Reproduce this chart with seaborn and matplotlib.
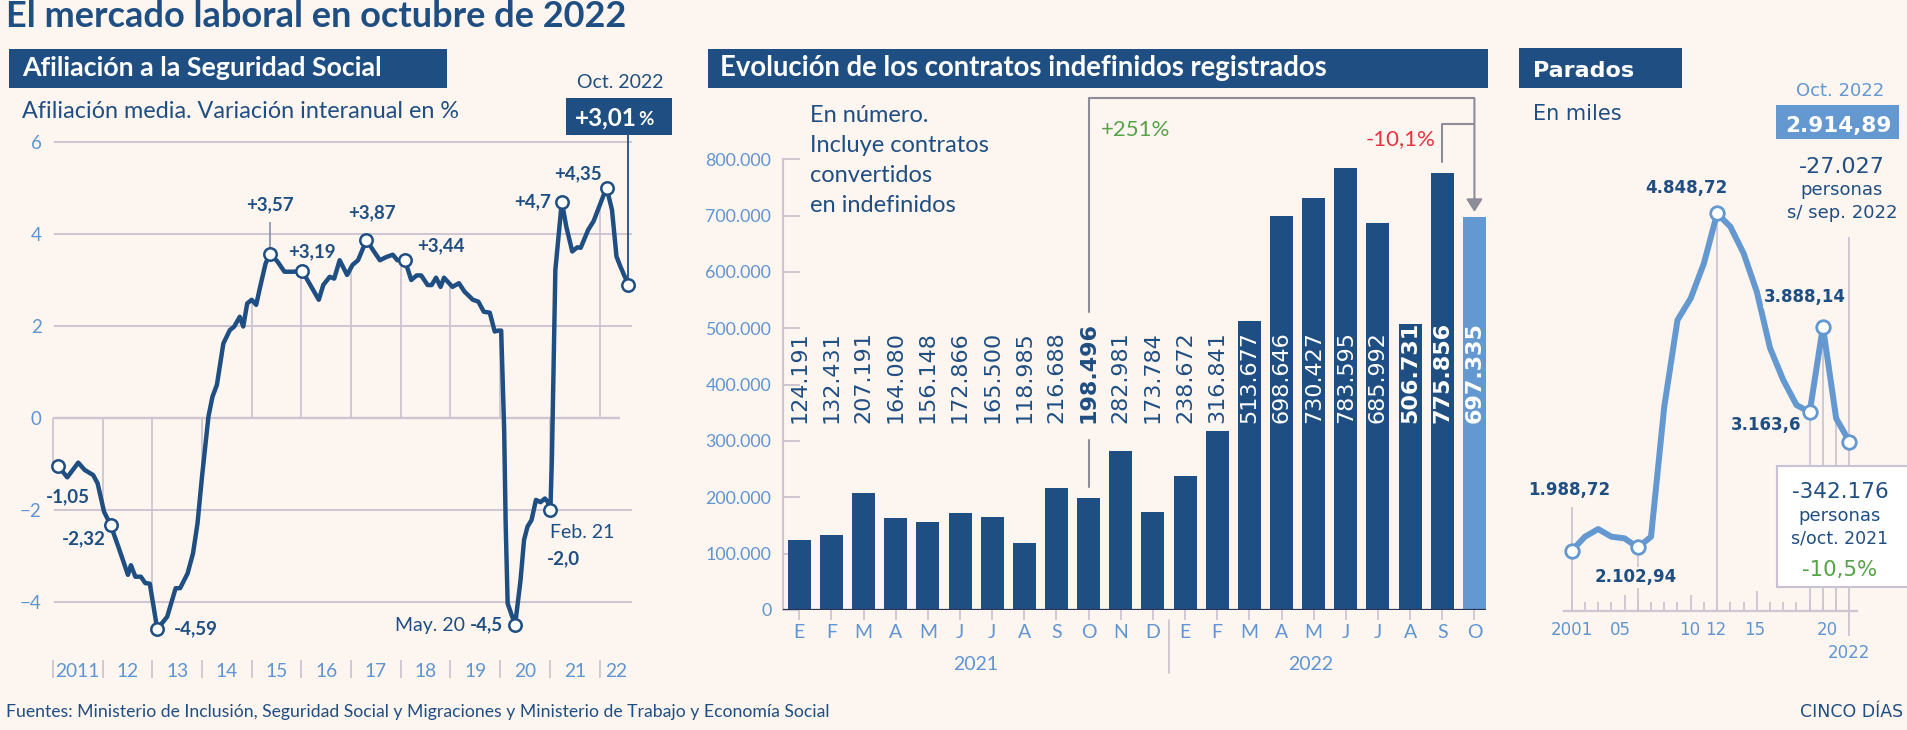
import numpy as np
import pandas as pd
import matplotlib
matplotlib.use("Agg")
import matplotlib.pyplot as plt
import matplotlib.transforms as mtransforms
from matplotlib.patches import Rectangle
import seaborn as sns

# ---------------- DATA ----------------
anios_afiliacion = [2011.11, 2011.29, 2011.51, 2011.64, 2011.81, 2011.90,
                    2012.03, 2012.16, 2012.34, 2012.51, 2012.57, 2012.66, 2012.77, 2012.86, 2012.95,
                    2013.10, 2013.30, 2013.47, 2013.56, 2013.71, 2013.82, 2013.91,
                    2014.00, 2014.13, 2014.21, 2014.30, 2014.43, 2014.56, 2014.65, 2014.76, 2014.83, 2014.91,
                    2015.00, 2015.09, 2015.17, 2015.28, 2015.37, 2015.52, 2015.66, 2015.83,
                    2016.02, 2016.18, 2016.35, 2016.44, 2016.57, 2016.66, 2016.77, 2016.92,
                    2017.03, 2017.14, 2017.31, 2017.46, 2017.58, 2017.71, 2017.84, 2017.93,
                    2018.08, 2018.21, 2018.32, 2018.41, 2018.54, 2018.62, 2018.71, 2018.80, 2018.87,
                    2019.04, 2019.17, 2019.28, 2019.45, 2019.56, 2019.67, 2019.79, 2019.89, 2019.96,
                    2020.02, 2020.08, 2020.11, 2020.15, 2020.30, 2020.41, 2020.48, 2020.55, 2020.63,
                    2020.72, 2020.81, 2020.90, 2020.96,
                    2021.01, 2021.04, 2021.11, 2021.24, 2021.33, 2021.45, 2021.55, 2021.62, 2021.77,
                    2021.88, 2021.99,
                    2022.14, 2022.25, 2022.34, 2022.42, 2022.58]
afiliacion = [-1.05, -1.29, -0.97, -1.13, -1.24, -1.42,
              -2.04, -2.32, -2.87, -3.41, -3.20, -3.45, -3.45, -3.59, -3.60,
              -4.59, -4.32, -3.70, -3.70, -3.38, -2.94, -2.29,
              -1.28, 0.03, 0.46, 0.72, 1.62, 1.91, 1.99, 2.20, 1.99, 2.49,
              2.57, 2.46, 2.85, 3.36, 3.57, 3.40, 3.18, 3.18,
              3.19, 2.89, 2.57, 2.89, 3.07, 3.03, 3.43, 3.11,
              3.33, 3.43, 3.87, 3.62, 3.43, 3.50, 3.55, 3.43,
              3.44, 3.00, 3.10, 3.10, 2.89, 2.89, 3.05, 2.85, 3.05,
              2.85, 2.93, 2.75, 2.57, 2.53, 2.31, 2.29, 1.88, 1.90,
              1.90, -0.26, -2.29, -4.03, -4.50, -3.52, -2.65, -2.36, -2.22,
              -1.78, -1.83, -1.75, -1.83,
              -2.00, -0.91, 3.22, 4.70, 4.16, 3.62, 3.71, 3.70, 4.09,
              4.28, 4.59,
              5.01, 4.52, 3.51, 3.29, 2.89]
hitos_afiliacion = [2011.11, 2012.16, 2013.10, 2015.37, 2016.02, 2017.31, 2018.08,
                    2020.30, 2021.01, 2021.24, 2022.14, 2022.58]
anios_eje_afiliacion = list(range(2011, 2023))
etiquetas_eje_afiliacion = ["2011", "12", "13", "14", "15", "16", "17", "18", "19", "20", "21", "22"]
ticks_afiliacion = [-4, -2, 0, 2, 4, 6]

meses = ["E", "F", "M", "A", "M", "J", "J", "A", "S", "O", "N", "D",
         "E", "F", "M", "A", "M", "J", "J", "A", "S", "O"]
anios_meses = [2021] * 12 + [2022] * 10
contratos = [124191, 132431, 207191, 164080, 156148, 172866, 165500, 118985, 216688, 198496,
             282981, 173784, 238672, 316841, 513677, 698646, 730427, 783595, 685992, 506731,
             775856, 697335]
destacados = [9, 19, 20, 21]

anios_parados = list(range(2001, 2023))
parados = [1988.72, 2108, 2173, 2108, 2094, 2017, 2108, 3210, 3944, 4128, 4425,
           4848.72, 4735, 4510, 4184, 3707, 3436, 3224, 3163.6, 3888.14, 3111, 2914.89]
hitos_parados = [2001, 2006, 2012, 2019, 2020, 2022]
etiquetas_parados = ["1.988,72", "2.102,94", "4.848,72", "3.163,6", "3.888,14", None]

# ---------------- STYLE ----------------
W, H = 1908, 730
BG = "#fdf5ef"
DARK = "#1f4e82"
LIGHT = "#6398d0"
TICK = "#5e95d2"
GRID = "#cdc6d2"
LINEGREY = "#8e8c99"
GREEN = "#56a247"
RED = "#e53340"
DV = "DejaVu Sans"

sns.set_theme(style="white")
plt.rcParams["font.family"] = ["Lato", "DejaVu Sans"]
plt.rcParams["axes.unicode_minus"] = True

fig = plt.figure(figsize=(W / 100, H / 100), dpi=100, facecolor=BG)


def fx(px):
    return px / W


def fy(py):
    return 1 - py / H


def ftext(x, y, s, **kw):
    kw.setdefault("va", "baseline")
    return fig.text(fx(x), fy(y), s, **kw)


def rect(x0, y0, x1, y1, **kw):
    fig.add_artist(Rectangle((fx(x0), fy(y1)), (x1 - x0) / W, (y1 - y0) / H,
                             transform=fig.transFigure, **kw))


def pyd(ax, py):
    return ax.transData.inverted().transform((0, H - py))[1]


# ---------------- TITLES ----------------
ftext(6, 27, "El mercado laboral en octubre de 2022", fontsize=26, weight="bold", color=DARK)

rect(8.7, 49, 447, 88, facecolor=DARK, lw=0)
ftext(22, 76, "Afiliación a la Seguridad Social", fontsize=19.3, weight="bold", color="white")
ftext(22, 118, "Afiliación media. Variación interanual en %", fontsize=16.8, color=DARK)
ftext(620, 88, "Oct. 2022", ha="center", fontsize=14, color=DARK)
rect(566, 98, 672, 135, facecolor=DARK, lw=0)
ftext(637, 125, "+3,01", ha="right", fontsize=17.5, weight="bold", color="white")
ftext(638, 125, "%", ha="left", fontsize=13.5, weight="bold", color="white")

rect(707.7, 49, 1488, 88, facecolor=DARK, lw=0)
ftext(720, 76, "Evolución de los contratos indefinidos registrados", fontsize=19.8,
      weight="bold", color="white")
for yb, line in zip([121.7, 151.5, 181.5, 211.7],
                    ["En número.", "Incluye contratos", "convertidos", "en indefinidos"]):
    ftext(810, yb, line, fontsize=17, color=DARK)

rect(1519.3, 48.3, 1681.7, 87.7, facecolor=DARK, lw=0)
ftext(1533, 76.7, "Parados", fontsize=16, weight="bold", color="white", family=DV)
ftext(1533, 120, "En miles", fontsize=15, color=DARK, family=DV)
ftext(1840, 96, "Oct. 2022", ha="center", fontsize=13, color=LIGHT, family=DV)
rect(1776, 105, 1899, 139.3, facecolor=LIGHT, lw=0)
ftext(1838, 131.7, "2.914,89", ha="center", fontsize=15.5, weight="bold", color="white", family=DV)
ftext(1842, 173.3, "-27.027", ha="center", fontsize=16, color=DARK, family=DV)
ftext(1842, 195, "personas", ha="center", fontsize=13, color=DARK, family=DV)
ftext(1842, 218.3, "s/ sep. 2022", ha="center", fontsize=13, color=DARK, family=DV)

ftext(6, 717, "Fuentes: Ministerio de Inclusión, Seguridad Social y Migraciones y Ministerio "
      "de Trabajo y Economía Social", fontsize=12.7, color=DARK)
ftext(1903, 716.7, "CINCO DÍAS", ha="right", fontsize=12.5, color=DARK, family=DV)

# ---------------- LEFT: AFILIACIÓN ----------------
ax1 = fig.add_axes([fx(50), fy(661.8), 590 / W, 538.2 / H])
ax1.set_facecolor("none")
ax1.set_xlim(2010.942, 2022.813)
ax1.set_ylim(-5.3, 6.4)
x_af = np.array(anios_afiliacion)
y_af = np.array(afiliacion)

for g in ticks_afiliacion:
    if g == 0:
        ax1.hlines(g, 2011.0, 2022.41, color=GRID, lw=1.7, zorder=0)
    else:
        ax1.hlines(g, 2011.02, 2022.65, color=GRID, lw=1.4, zorder=0)
xb = np.array(anios_eje_afiliacion, dtype=float)
ax1.vlines(xb, 0, np.interp(xb, x_af, y_af), color=GRID, lw=1.3, zorder=0)

sns.lineplot(x=x_af, y=y_af, ax=ax1, color=DARK, lw=3.2, sort=False, estimator=None, zorder=3)
idx = [anios_afiliacion.index(h) for h in hitos_afiliacion]
sns.scatterplot(x=x_af[idx], y=y_af[idx], ax=ax1, s=80, color="white", edgecolor=DARK,
                linewidth=1.8, zorder=6)

ax1.set_yticks(ticks_afiliacion)
ax1.set_yticklabels([str(t).replace("-", "\u2212") for t in ticks_afiliacion])
ax1.tick_params(axis="y", length=0, pad=6, labelsize=13.5, labelcolor=TICK)
ax1.set_xticks([])
for s in ax1.spines.values():
    s.set_visible(False)

blend1 = mtransforms.blended_transform_factory(ax1.transData, fig.transFigure)
ax1.vlines(xb, fy(678), fy(660), transform=blend1, color=GRID, lw=1.3, clip_on=False)
for i, lab in enumerate(etiquetas_eje_afiliacion):
    off = 0.34 if lab == "22" else 0.5
    ax1.text(xb[i] + off, fy(676.7), lab, transform=blend1, ha="center", va="baseline",
             fontsize=13.8, color=TICK)

# annotations
lab_af = [("-1,05", 7, -21.8, "center"),
          ("-2,32", -19.3, -10, "center"),
          ("-4,59", 12.2, 0, "left"),
          ("+3,57", 0, 35.3, "center"),
          ("+3,19", -10, 13.7, "left"),
          ("+3,87", 4, 19.4, "center"),
          ("+3,44", 8.9, 10, "left"),
          ("-4,5", -8.5, 0, "right"),
          ("-2,0", -2.2, -35.3, "left"),
          ("+4,7", -7.6, 0, "right"),
          ("+4,35", -20.5, 10, "center"),
          (None, 0, 0, "center")]
art = {}
for k, (txt, dx, dy, ha) in zip(idx, lab_af):
    if txt is None:
        continue
    art[txt] = ax1.annotate(txt, xy=(x_af[k], y_af[k]), xytext=(dx, dy), textcoords="offset points",
                            ha=ha, va="center", fontsize=13.5, weight="bold", color=DARK, zorder=7)
ax1.annotate("May. 20 ", xy=(0, 0.5), xycoords=art["-4,5"], ha="right", va="center",
             fontsize=14, color=DARK)
kf = anios_afiliacion.index(2021.01)
ax1.annotate("Feb. 21", xy=(x_af[kf], y_af[kf]), xytext=(0, -16.3), textcoords="offset points",
             ha="left", va="center", fontsize=14, color=DARK)
k357 = anios_afiliacion.index(2015.37)
ax1.vlines(x_af[k357], y_af[k357], pyd(ax1, 221.7), color="#7d8aa3", lw=1.1, zorder=4)
ax1.vlines(x_af[-1], y_af[-1], pyd(ax1, 135), color=DARK, lw=1.3, zorder=4, clip_on=False)

# ---------------- MIDDLE: CONTRATOS ----------------
df = pd.DataFrame({"clave": [f"{m}-{a}-{i}" for i, (m, a) in enumerate(zip(meses, anios_meses))],
                   "contratos": contratos})
colores = [DARK] * (len(contratos) - 1) + [LIGHT]
ax2 = fig.add_axes([fx(783.2), fy(610), (1486 - 783.2) / W, 515 / H])
ax2.set_facecolor("none")
sns.barplot(data=df, x="clave", y="contratos", hue="clave", palette=colores, dodge=False,
            legend=False, width=0.715, saturation=1, linewidth=0, ax=ax2)
ax2.set_xlim(-0.5, 21.36)
ax2.set_ylim(0, 913900)
ax2.set_xlabel("")
ax2.set_ylabel("")
for s in ["top", "right", "bottom"]:
    ax2.spines[s].set_visible(False)
ax2.spines["left"].set_bounds(0, 800000)
ax2.spines["left"].set_color(GRID)
ax2.spines["left"].set_linewidth(1.5)
yt = list(range(0, 800001, 100000))
ax2.set_yticks(yt)
ax2.set_yticklabels([f"{v:,}".replace(",", ".") for v in yt])
ax2.tick_params(axis="y", direction="in", length=12.5, width=1.4, color=GRID, pad=8.6,
                labelsize=12.8, labelcolor=TICK, left=True)
ax2.set_xticks(range(len(meses)))
ax2.set_xticklabels(meses)
ax2.tick_params(axis="x", direction="out", length=7, width=1.3, color=GRID, pad=3,
                labelsize=14, labelcolor=TICK, bottom=True)
ax2.axhline(0, color="#2b3558", lw=1.6, zorder=3)

blend2 = mtransforms.blended_transform_factory(ax2.transData, fig.transFigure)
ax2.text(5.5, fy(670), "2021", transform=blend2, ha="center", va="baseline", fontsize=14, color=TICK)
ax2.text(15.9, fy(670), "2022", transform=blend2, ha="center", va="baseline", fontsize=14, color=TICK)
ax2.plot([11.5, 11.5], [fy(620), fy(673)], transform=blend2, color=GRID, lw=1.3, clip_on=False)

ETIQ_Y = 331300
for i, v in enumerate(contratos):
    ax2.text(i, ETIQ_Y, f"{v:,}".replace(",", "."), rotation=90, ha="center", va="bottom",
             fontsize=16, family=DV, weight="bold" if i in destacados else "normal",
             color="white" if v > ETIQ_Y else DARK, zorder=5)

TOP1, TOP2 = 908000, 862000
ax2.plot([9, 9], [contratos[9] + 20000, ETIQ_Y - 30000], color=LINEGREY, lw=1.5, clip_on=False)
ax2.plot([9, 9, 21], [528000, TOP1, TOP1], color=LINEGREY, lw=1.5, clip_on=False)
ax2.plot([20, 20, 21], [contratos[20] + 20000, TOP2, TOP2], color=LINEGREY, lw=1.5, clip_on=False)
ax2.annotate("", xy=(21, contratos[21] + 9000), xytext=(21, TOP1),
             arrowprops=dict(arrowstyle="-|>,head_length=0.55,head_width=0.35", color=LINEGREY,
                             lw=1.5, shrinkA=0, shrinkB=0, mutation_scale=14),
             annotation_clip=False)
ax2.text(9.37, 851800, "+251%", ha="left", va="center", fontsize=16, color=GREEN)
ax2.text(17.62, 835900, "-10,1%", ha="left", va="center", fontsize=16, color=RED)

# ---------------- RIGHT: PARADOS ----------------
ax3 = fig.add_axes([fx(1560), fy(610.7), 310 / W, (610.7 - 100) / H])
ax3.set_facecolor("none")
ax3.set_xlim(2000.115, 2023.56)
ax3.set_ylim(1481, 5809)
x_p = np.array(anios_parados, dtype=float)
y_p = np.array(parados)
ip = [anios_parados.index(h) for h in hitos_parados]

ymin3 = ax3.get_ylim()[0]
ax3.vlines(x_p[0], ymin3, pyd(ax3, 506.7), color=GRID, lw=1.3, zorder=0)
for k in ip[1:-1]:
    ax3.vlines(x_p[k], ymin3, y_p[k], color=GRID, lw=1.3, zorder=0)
k21 = anios_parados.index(2021)
ax3.vlines(x_p[k21], ymin3, y_p[k21], color=GRID, lw=1.3, zorder=0)
ax3.vlines(x_p[-1], pyd(ax3, 636), pyd(ax3, 236.7), color=GRID, lw=1.3, zorder=0, clip_on=False)

sns.lineplot(x=x_p, y=y_p, ax=ax3, color=LIGHT, lw=4.3, estimator=None, zorder=3)
sns.scatterplot(x=x_p[ip], y=y_p[ip], ax=ax3, s=95, color="white", edgecolor=LIGHT,
                linewidth=2, zorder=6)

for s in ["top", "right", "left"]:
    ax3.spines[s].set_visible(False)
ax3.spines["bottom"].set_bounds(2000.4, 2022.56)
ax3.spines["bottom"].set_color(GRID)
ax3.spines["bottom"].set_linewidth(1.6)
ax3.set_xticks([])
ax3.set_yticks([])

blend3 = mtransforms.blended_transform_factory(ax3.transData, fig.transFigure)
for yr in anios_parados:
    ln = 20 if yr == 2015 else (16 if yr in (2005, 2010) else 9)
    ax3.vlines(yr, fy(610.7), fy(610.7 - ln), transform=blend3, color=GRID, lw=1.3)
for xl, lab in [(2001, "2001"), (2004.7, "05"), (2009.95, "10"), (2011.9, "12"),
                (2014.85, "15"), (2020.3, "20")]:
    ax3.text(xl, fy(635), lab, transform=blend3, ha="center", va="baseline", fontsize=12,
             family=DV, color=TICK)
ax3.text(2022, fy(658.3), "2022", transform=blend3, ha="center", va="baseline", fontsize=12,
         family=DV, color=TICK)

off_p = [(-1.7, 43.9), (-1.2, -21.6), (-22.3, 18), (-31.2, -9.6), (-12.7, 21.2), (0, 0)]
for k, lab, (dx, dy) in zip(ip, etiquetas_parados, off_p):
    if lab is None:
        continue
    ax3.annotate(lab, xy=(x_p[k], y_p[k]), xytext=(dx, dy), textcoords="offset points",
                 ha="center", va="center", fontsize=12, weight="bold", family=DV, color=DARK,
                 zorder=7, bbox=dict(facecolor=BG, edgecolor="none", pad=1))

rect(1776.7, 466, 1912, 587, facecolor="white", edgecolor="#c9c2d6", lw=1.5, zorder=5)
ftext(1840, 498.3, "-342.176", ha="center", fontsize=15.5, color=DARK, family=DV, zorder=6)
ftext(1840, 520.7, "personas", ha="center", fontsize=13, color=DARK, family=DV, zorder=6)
ftext(1840, 543.3, "s/oct. 2021", ha="center", fontsize=12.5, color=DARK, family=DV, zorder=6)
ftext(1840, 576, "-10,5%", ha="center", fontsize=15.3, color=GREEN, family=DV, zorder=6)

fig.savefig("out.png", dpi=100, facecolor=BG)
